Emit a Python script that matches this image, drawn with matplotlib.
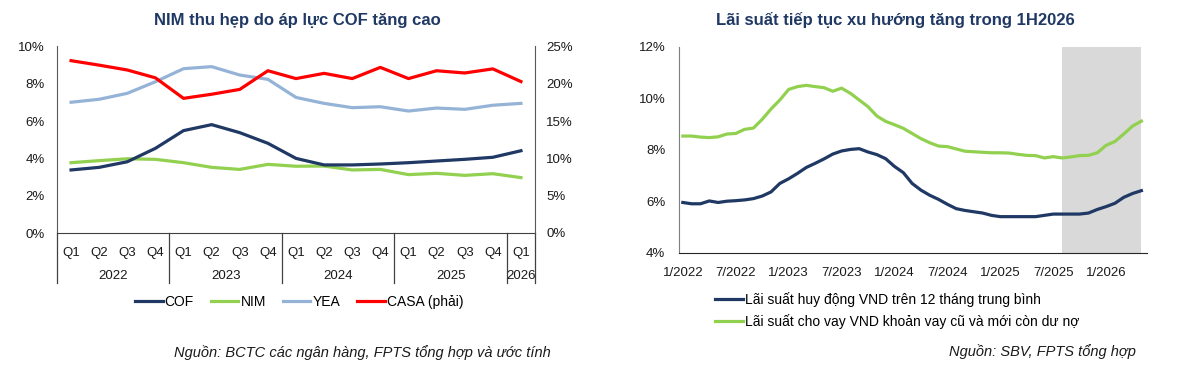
import matplotlib
matplotlib.use("Agg")
import matplotlib.pyplot as plt
import matplotlib.transforms as mtransforms
from matplotlib.lines import Line2D

plt.rcParams['font.family'] = ['Liberation Sans', 'DejaVu Sans']

# --- Chart 1: quarterly data ---
quarters = ['Q1', 'Q2', 'Q3', 'Q4'] * 4 + ['Q1']
years = ['2022', '2023', '2024', '2025', '2026']
cof = [3.38, 3.52, 3.82, 4.54, 5.49, 5.81, 5.38, 4.81, 4.00, 3.65, 3.65, 3.70, 3.77, 3.86, 3.95, 4.06, 4.41]
nim = [3.77, 3.88, 3.98, 3.95, 3.77, 3.52, 3.41, 3.68, 3.58, 3.59, 3.38, 3.41, 3.13, 3.20, 3.09, 3.18, 2.97]
yea = [7.01, 7.17, 7.49, 8.11, 8.81, 8.92, 8.47, 8.24, 7.27, 6.95, 6.72, 6.77, 6.54, 6.70, 6.63, 6.85, 6.95]
casa = [23.1, 22.5, 21.85, 20.8, 18.05, 18.6, 19.25, 21.75, 20.7, 21.4, 20.7, 22.2, 20.7, 21.75, 21.45, 22.0, 20.3]

# --- Chart 2: monthly data 1/2022 - 5/2026 ---
deposit = [5.95, 5.90, 5.90, 6.01, 5.95, 6.00, 6.02, 6.05, 6.10, 6.20, 6.36, 6.69, 6.87, 7.08, 7.31, 7.47,
           7.64, 7.83, 7.95, 8.01, 8.04, 7.91, 7.81, 7.65, 7.35, 7.11, 6.69, 6.43, 6.23, 6.07, 5.88, 5.71,
           5.64, 5.59, 5.54, 5.45, 5.40, 5.40, 5.40, 5.40, 5.40, 5.45, 5.50, 5.50, 5.50, 5.50, 5.54, 5.68,
           5.79, 5.92, 6.15, 6.30, 6.41]
lending = [8.53, 8.53, 8.49, 8.47, 8.50, 8.61, 8.63, 8.79, 8.84, 9.18, 9.58, 9.93, 10.34, 10.45, 10.50, 10.45,
           10.41, 10.27, 10.39, 10.19, 9.93, 9.67, 9.31, 9.10, 8.97, 8.83, 8.63, 8.43, 8.27, 8.14, 8.12, 8.03,
           7.94, 7.92, 7.90, 7.88, 7.88, 7.87, 7.82, 7.78, 7.77, 7.68, 7.73, 7.68, 7.72, 7.77, 7.78, 7.88,
           8.17, 8.32, 8.61, 8.92, 9.11]
month_labels = ['1/2022', '7/2022', '1/2023', '7/2023', '1/2024', '7/2024', '1/2025', '7/2025', '1/2026']
forecast_start, forecast_end = 43, 52

navy = '#1F3864'
green = '#92D050'
lightblue = '#95B3D7'
red = '#FF0000'
txt = '#1a1a1a'
fs = 9.5      # ticks
fs_leg = 10   # legends
fs_src = 10.5 # source notes

fig = plt.figure(figsize=(11.95, 3.72), dpi=100)

# ================= left chart =================
ax = fig.add_axes([57 / 1195, 1 - 233 / 372, (535 - 57) / 1195, (233 - 46.5) / 372])
x = list(range(len(cof)))
ax.plot(x, yea, color=lightblue, lw=2.3)
ax.plot(x, nim, color=green, lw=2.3)
ax.plot(x, cof, color=navy, lw=2.3)
ax.set_ylim(0, 10)
ax.set_yticks([0, 2, 4, 6, 8, 10])
ax.set_yticklabels([f'{v}%' for v in [0, 2, 4, 6, 8, 10]])
ax.set_xlim(-0.5, 16.5)
ax.set_xticks(x)
ax.set_xticklabels(quarters)
ax.tick_params(axis='both', length=0, labelsize=fs, colors=txt)
ax.tick_params(axis='y', pad=9)
ax.tick_params(axis='x', pad=10)
for s in ['top', 'right']:
    ax.spines[s].set_visible(False)
ax.spines['left'].set_color('#595959')
ax.spines['bottom'].set_color('#404040')

ax2 = ax.twinx()
ax2.plot(x, casa, color=red, lw=2.3)
ax2.set_ylim(0, 25)
ax2.set_yticks([0, 5, 10, 15, 20, 25])
ax2.set_yticklabels([f'{v}%' for v in [0, 5, 10, 15, 20, 25]])
ax2.tick_params(axis='y', length=0, labelsize=fs, colors=txt, pad=8)
for s in ['top', 'left', 'bottom']:
    ax2.spines[s].set_visible(False)
ax2.spines['right'].set_color('#595959')

# year group separators and labels
trans = mtransforms.blended_transform_factory(ax.transData, ax.transAxes)
sep_bottom = -(283 - 233) / (233 - 46.5)
for sx in [-0.5, 3.5, 7.5, 11.5, 15.5, 16.5]:
    ax.add_line(Line2D([sx, sx], [0, sep_bottom], transform=trans, color='#404040', lw=0.9, clip_on=False))
year_y = -(276 - 233) / (233 - 46.5)
for cx, yr in zip([1.5, 5.5, 9.5, 13.5, 16], years):
    ax.text(cx, year_y, yr, transform=trans, ha='center', va='center', fontsize=fs, color=txt)

fig.text(297 / 1195, 1 - 21 / 372, 'NIM thu hẹp do áp lực COF tăng cao', ha='center', va='center',
         fontsize=12, fontweight='bold', color=navy)

handles = [Line2D([], [], color=c, lw=2.3) for c in [navy, green, lightblue, red]]
fig.legend(handles, ['COF', 'NIM', 'YEA', 'CASA (phải)'], loc='center', ncol=4, frameon=False,
           bbox_to_anchor=(299 / 1195, 1 - 302 / 372), fontsize=fs_leg, handlelength=2.0,
           handletextpad=0.15, columnspacing=1.2, borderpad=0)

fig.text(551 / 1195, 1 - 353 / 372, 'Nguồn: BCTC các ngân hàng, FPTS tổng hợp và ước tính',
         ha='right', va='center', fontsize=fs_src, style='italic', color=txt)

# ================= right chart =================
bx = fig.add_axes([679.3 / 1195, 1 - 252.7 / 372, (1146.7 - 679.3) / 1195, (252.7 - 46.7) / 372])
m = list(range(len(deposit)))
bx.axvspan(forecast_start, forecast_end, color='#D9D9D9', lw=0, zorder=0)
bx.plot(m, lending, color=green, lw=2.3)
bx.plot(m, deposit, color=navy, lw=2.3)
bx.set_xlim(-0.4, 52.6)
bx.set_ylim(4, 12)
bx.set_yticks([4, 6, 8, 10, 12])
bx.set_yticklabels([f'{v}%' for v in [4, 6, 8, 10, 12]])
bx.set_xticks(list(range(0, 49, 6)))
bx.set_xticklabels(month_labels)
bx.tick_params(axis='both', length=0, labelsize=fs, colors=txt)
bx.tick_params(axis='y', pad=10)
bx.tick_params(axis='x', pad=10)
for s in ['top', 'right']:
    bx.spines[s].set_visible(False)
bx.spines['left'].set_color('#7f7f7f')
bx.spines['bottom'].set_color('#262626')

fig.text(895 / 1195, 1 - 20 / 372, 'Lãi suất tiếp tục xu hướng tăng trong 1H2026', ha='center', va='center',
         fontsize=12, fontweight='bold', color=navy)

handles2 = [Line2D([], [], color=c, lw=2.3) for c in [navy, green]]
fig.legend(handles2, ['Lãi suất huy động VND trên 12 tháng trung bình',
                      'Lãi suất cho vay VND khoản vay cũ và mới còn dư nợ'],
           loc='center left', ncol=1, frameon=False, bbox_to_anchor=(715 / 1195, 1 - 310.5 / 372),
           fontsize=fs_leg, handlelength=2.0, handletextpad=0.15, labelspacing=0.5, borderpad=0,
           borderaxespad=0)

fig.text(1136 / 1195, 1 - 352 / 372, 'Nguồn: SBV, FPTS tổng hợp', ha='right', va='center',
         fontsize=fs_src, style='italic', color=txt)

fig.savefig('out.png', dpi=100)
